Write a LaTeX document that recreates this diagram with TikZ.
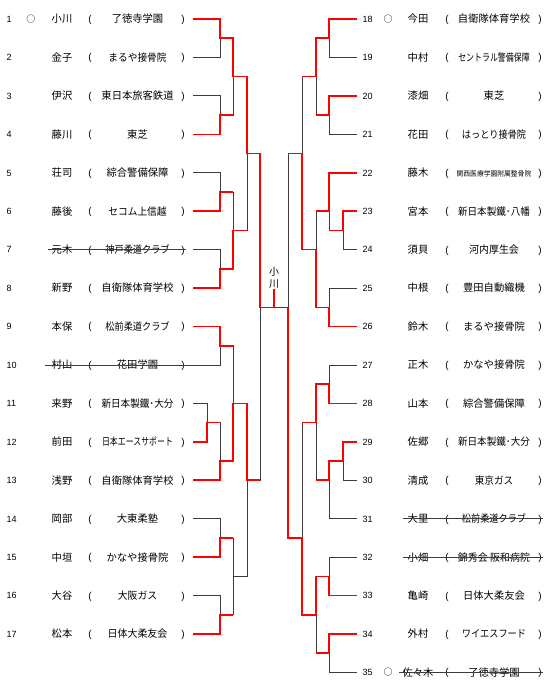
\documentclass[tikz,border=0pt]{standalone}
\usepackage{fontspec}
\setmainfont{Liberation Sans}
\newfontfamily\jp{Noto Sans CJK JP}
\usetikzlibrary{calc}
\definecolor{ln}{RGB}{60,60,60}
\definecolor{rd}{RGB}{255,0,0}
\newcommand\hrow[1]{19+19.22*#1}
\begin{document}
\begin{tikzpicture}[x=1pt,y=-1pt,
  lose/.style={ln,line width=0.8pt},
  win/.style={rd,line width=1.6pt},
  strike/.style={ln,line width=0.7pt},
  num/.style={anchor=base west,inner sep=0pt,font=\fontsize{9}{9}\selectfont},
  jpt/.style={anchor=base,inner sep=0pt,font=\jp\fontsize{10.3}{10.3}\selectfont},
  par/.style={anchor=base,inner sep=0pt,font=\fontsize{10}{10}\selectfont}]
\useasboundingbox (0,0) rectangle (550,691);
% ---------- left entries ----------
\foreach \i/\nm/\org/\s in {
 1/小川/了徳寺学園/1, 2/金子/まるや接骨院/0.94, 3/伊沢/東日本旅客鉄道/1,
 4/藤川/東芝/1, 5/荘司/綜合警備保障/1, 6/藤後/セコム上信越/0.94,
 7/元木/神戸柔道クラブ/0.89, 8/新野/自衛隊体育学校/1, 9/本保/松前柔道クラブ/0.89,
 10/村山/花田学園/1, 11/来野/新日本製鐵･大分/0.93, 12/前田/日本エースサポート/0.77,
 13/浅野/自衛隊体育学校/1, 14/岡部/大東柔塾/1, 15/中垣/かなや接骨院/1,
 16/大谷/大阪ガス/0.95, 17/松本/日体大柔友会/0.97}{
  \pgfmathsetmacro\yy{19+38.44*(\i-1)}
  \coordinate (L\i) at (193,\yy);
  \node[num] (no\i) at (6.5,\yy+3.3) {\i};
  \node[jpt] (nm\i) at (62,\yy+3.9) {\nm};
  \node[par] (op\i) at (90,\yy+3.4) {(};
  \node[jpt] (og\i) at (137.5,\yy+3.9) {\scalebox{\s}[1]{\org}};
  \node[par] (cp\i) at (183,\yy+3.4) {)};
}
% ---------- right entries ----------
\foreach \i/\nm/\org/\s in {
 18/今田/自衛隊体育学校/1, 19/中村/セントラル警備保障/0.77, 20/漆畑/東芝/1,
 21/花田/はっとり接骨院/0.89, 22/藤木/{\fontsize{7}{7}\selectfont 関西医療学園附属整骨院}/0.97,
 23/宮本/新日本製鐵･八幡/0.93, 24/須貝/河内厚生会/0.97, 25/中根/豊田自動織機/1,
 26/鈴木/まるや接骨院/1, 27/正木/かなや接骨院/1, 28/山本/綜合警備保障/1,
 29/佐郷/新日本製鐵･大分/0.93, 30/清成/東京ガス/0.93, 31/大里/松前柔道クラブ/0.89,
 32/小畑/錦秀会 阪和病院/0.97, 33/亀崎/日体大柔友会/1, 34/外村/ワイエスフード/0.89,
 35/佐々木/了徳寺学園/1}{
  \pgfmathsetmacro\yy{19+38.44*(\i-18)}
  \coordinate (R\i) at (357,\yy);
  \node[num] (no\i) at (362.5,\yy+3.3) {\i};
  \node[jpt] (nm\i) at (418,\yy+3.9) {\nm};
  \node[par] (op\i) at (447,\yy+3.4) {(};
  \node[jpt] (og\i) at (494,\yy+3.9) {\scalebox{\s}[1]{\org}};
  \node[par] (cp\i) at (540,\yy+3.4) {)};
}
% seeds
\node[anchor=base,inner sep=0pt,font=\jp\fontsize{9}{9}\selectfont] (s1) at (31,19+3.4) {○};
\node[anchor=base,inner sep=0pt,font=\jp\fontsize{9}{9}\selectfont] (s18) at (388,19+3.4) {○};
\node[anchor=base,inner sep=0pt,font=\jp\fontsize{9}{9}\selectfont] (s35) at (388,{19+38.44*17+3.4}) {○};
% champion label
\node[anchor=south,align=center,inner sep=0.8pt,font=\jp\fontsize{10}{11.5}\selectfont] (champ) at (274,289) {小\\川};
% ---------- junctions left ----------
\coordinate (a12) at (220,\hrow{1});
\coordinate (a34) at (220,\hrow{5});
\coordinate (a56) at (220,\hrow{9});
\coordinate (a78) at (220,\hrow{13});
\coordinate (a910) at (220,\hrow{17});
\coordinate (x1112) at (207,\hrow{21});
\coordinate (a13) at (220,\hrow{23});
\coordinate (a1415) at (220,\hrow{27});
\coordinate (a1617) at (220,\hrow{31});
\coordinate (b14) at (233,\hrow{3});
\coordinate (b58) at (233,\hrow{11});
\coordinate (b913) at (233,\hrow{20});
\coordinate (b1417) at (233,\hrow{29});
\coordinate (c18) at (247,\hrow{7});
\coordinate (c917) at (247,\hrow{24});
\coordinate (d) at (260,\hrow{15});
\coordinate (cm) at (274,\hrow{15});
% ---------- junctions right ----------
\coordinate (r1819) at (329,\hrow{1});
\coordinate (r2021) at (329,\hrow{5});
\coordinate (r2324) at (343,\hrow{11});
\coordinate (r2224) at (329,\hrow{10});
\coordinate (r2526) at (329,\hrow{15});
\coordinate (r2728) at (329,\hrow{19});
\coordinate (r2930) at (343,\hrow{23});
\coordinate (r2931) at (329,\hrow{24});
\coordinate (r3233) at (329,\hrow{29});
\coordinate (r3435) at (329,\hrow{33});
\coordinate (s1821) at (316,\hrow{3});
\coordinate (s2226) at (316,\hrow{12});
\coordinate (s2731) at (316,\hrow{21});
\coordinate (s3235) at (316,\hrow{31});
\coordinate (t1826) at (302,\hrow{7});
\coordinate (t2735) at (302,\hrow{27});
\coordinate (u) at (288,\hrow{15});
% ---------- strikes ----------
\draw[strike] ($(nm7.west)+(-4,0)$) -- ($(nm7.west -| cp7.east)+(1,0)$);
\draw[strike] ($(nm10.west)+(-7,0)$) -- (nm10.west -| L10);
\draw[strike] ($(nm31.west)+(-5,0)$) -- ($(nm31.west -| cp31.east)+(1,0)$);
\draw[strike] ($(nm32.west)+(-5,0)$) -- ($(nm32.west -| cp32.east)+(1,0)$);
\draw[strike] ($(nm35.west)+(-3,0)$) -- ($(nm35.west -| cp35.east)+(1,0)$);
% ---------- bracket (all) ----------
\foreach \p/\q in {L1/a12,L2/a12,L3/a34,L4/a34,L5/a56,L6/a56,L7/a78,L8/a78,
  L9/a910,L10/a910,L11/x1112,L12/x1112,x1112/a13,L13/a13,L14/a1415,L15/a1415,
  L16/a1617,L17/a1617,a12/b14,a34/b14,a56/b58,a78/b58,a910/b913,a13/b913,
  a1415/b1417,a1617/b1417,b14/c18,b58/c18,b913/c917,b1417/c917,c18/d,c917/d,
  R18/r1819,R19/r1819,R20/r2021,R21/r2021,R23/r2324,R24/r2324,R22/r2224,r2324/r2224,
  R25/r2526,R26/r2526,R27/r2728,R28/r2728,R29/r2930,R30/r2930,r2930/r2931,R31/r2931,
  R32/r3233,R33/r3233,R34/r3435,R35/r3435,r1819/s1821,r2021/s1821,r2224/s2226,
  r2526/s2226,r2728/s2731,r2931/s2731,r3233/s3235,r3435/s3235,s1821/t1826,
  s2226/t1826,s2731/t2735,s3235/t2735,t1826/u,t2735/u}{
  \draw[lose] (\p) -| (\q);
}
\draw[lose] (u) -- (cm);
% ---------- winners ----------
\draw[win] (L1) -| (a12) -| (b14) -| (c18) -| (d) -- (cm) -- (champ.south);
\draw[win] (L4) -| (a34) -- (a34 -| b14);
\draw[win] (L6) -| (a56) -- (a56 -| b58);
\draw[win] (L8) -| (a78) -| (b58) -- (b58 -| c18);
\draw[win] (L9) -| (a910) -- (a910 -| b913);
\draw[win] (L12) -| (x1112) -- (x1112 -| a13);
\draw[win] (L13) -| (a13) -| (b913) -| (c917) -- (c917 -| d);
\draw[win] (L15) -| (a1415) -- (a1415 -| b1417);
\draw[win] (L17) -| (a1617) -- (a1617 -| b1417);
\draw[win] (R18) -| (r1819) -| (s1821) -- (s1821 -| t1826);
\draw[win] (R20) -| (r2021) -- (r2021 -| s1821);
\draw[win] (R22) -| (r2224) -- (r2224 -| s2226);
\draw[win] (R23) -| (r2324) -- (r2324 -| r2224);
\draw[win] (R26) -| (r2526) -| (s2226) -| (t1826) -- (t1826 -| u);
\draw[win] (R28) -| (r2728) -| (s2731) -- (s2731 -| t2735);
\draw[win] (R29) -| (r2930) -| (r2931) -- (r2931 -| s2731);
\draw[win] (R33) -| (r3233) -| (s3235) -| (t2735) -| (u);
\draw[win] (R34) -| (r3435) -- (r3435 -| s3235);
\end{tikzpicture}
\end{document}
